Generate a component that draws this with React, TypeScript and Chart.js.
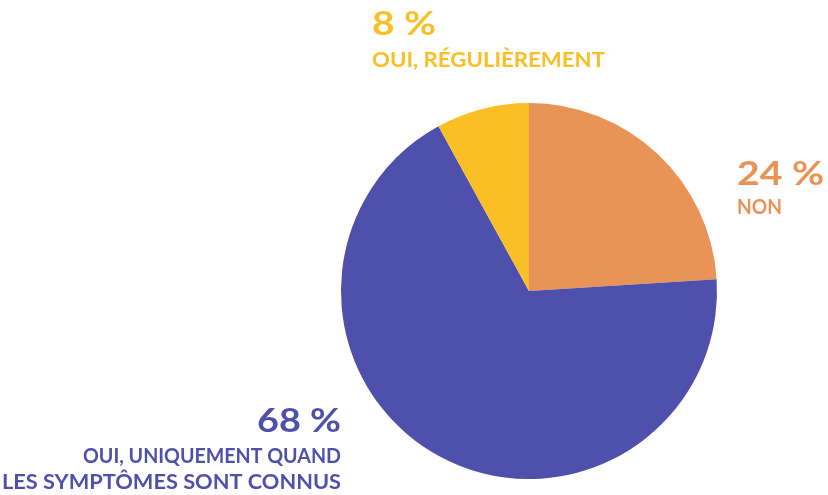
import React, { useEffect, useRef } from "react";
import { Chart, registerables } from "chart.js";

Chart.register(...registerables);

const categories = ["NON", "OUI, UNIQUEMENT QUAND LES SYMPTÔMES SONT CONNUS", "OUI, RÉGULIÈREMENT"];
const values = [24, 68, 8];
const colors = ["#E99356", "#4F50AC", "#FBBF26"];
const valueLabels = ["24 %", "68 %", "8 %"];
const textLabels: string[][] = [["NON"], ["OUI, UNIQUEMENT QUAND", "LES SYMPTÔMES SONT CONNUS"], ["OUI, RÉGULIÈREMENT"]];

const FONT = "Lato, 'Open Sans', sans-serif";

type LabelLayout = {
  x: number;
  align: "left" | "right";
  valueBase: number;
  valueW: number;
  lines: { base: number; w: number }[];
};

const layouts: LabelLayout[] = [
  { x: 737, align: "left", valueBase: 185, valueW: 87, lines: [{ base: 214, w: 45 }] },
  { x: 341, align: "right", valueBase: 432, valueW: 84, lines: [{ base: 463, w: 258 }, { base: 489, w: 339 }] },
  { x: 372, align: "left", valueBase: 35, valueW: 64, lines: [{ base: 67, w: 233 }] },
];

function fitText(ctx: CanvasRenderingContext2D, text: string, x: number, y: number, w: number, align: "left" | "right") {
  const m = ctx.measureText(text).width;
  const s = w / m;
  ctx.save();
  ctx.translate(x, y);
  ctx.scale(s, 1);
  ctx.textAlign = align;
  ctx.textBaseline = "alphabetic";
  ctx.fillText(text, 0, 0);
  ctx.restore();
}

const labelPlugin = {
  id: "sliceLabels",
  afterDraw(chart: any) {
    const ctx: CanvasRenderingContext2D = chart.ctx;
    layouts.forEach((l, i) => {
      ctx.fillStyle = colors[i];
      ctx.font = `700 32px ${FONT}`;
      fitText(ctx, valueLabels[i], l.x, l.valueBase, l.valueW, l.align);
      ctx.font = `700 21px ${FONT}`;
      textLabels[i].forEach((t, j) => {
        const ln = l.lines[j];
        fitText(ctx, t, l.x, ln.base, ln.w, l.align);
      });
    });
  },
};

export default function App() {
  const ref = useRef<HTMLCanvasElement>(null);
  useEffect(() => {
    if (!ref.current) return;
    const chart = new Chart(ref.current, {
      type: "pie",
      data: {
        labels: categories,
        datasets: [
          {
            data: values,
            backgroundColor: colors,
            borderWidth: 0,
          },
        ],
      },
      options: {
        animation: false,
        responsive: false,
        maintainAspectRatio: false,
        layout: { padding: { left: 341, right: 111, top: 103, bottom: 16 } },
        plugins: { legend: { display: false }, tooltip: { enabled: false } },
      },
      plugins: [labelPlugin],
    });
    return () => chart.destroy();
  }, []);
  return (
    <div style={{ position: "fixed", left: 0, top: 0, width: 828, height: 495, background: "#fff" }}>
      <canvas ref={ref} width={828} height={495} style={{ width: 828, height: 495 }} />
    </div>
  );
}
